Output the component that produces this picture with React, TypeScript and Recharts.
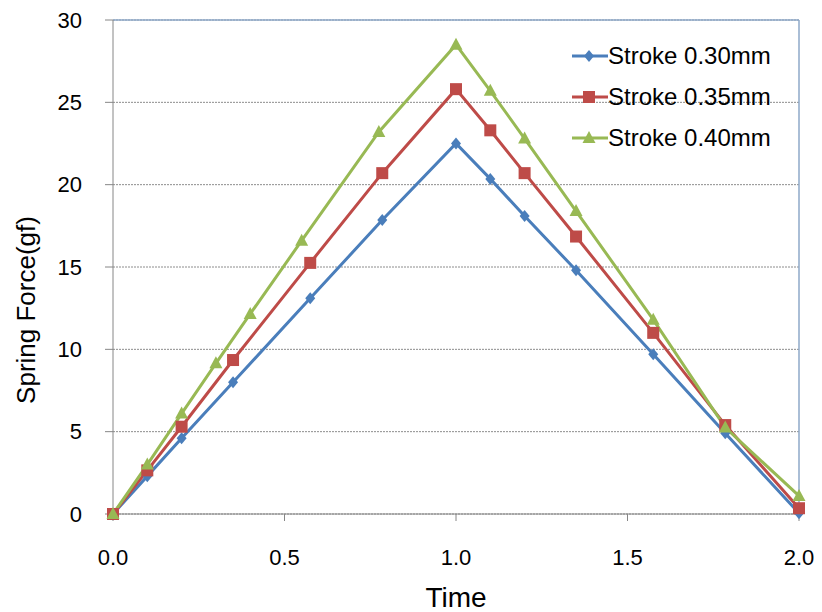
import React from "react";
import {
  LineChart,
  Line,
  XAxis,
  YAxis,
  CartesianGrid,
  ReferenceLine,
} from "recharts";

// time points and spring force readings, one set per stroke
const time030 = [0, 0.1, 0.2, 0.35, 0.575, 0.785, 1.0, 1.1, 1.2, 1.35, 1.575, 1.785, 2.0];
const force030 = [0, 2.3, 4.6, 8.0, 13.1, 17.85, 22.5, 20.35, 18.1, 14.8, 9.7, 4.9, 0.05];

const time035 = [0, 0.1, 0.2, 0.35, 0.575, 0.785, 1.0, 1.1, 1.2, 1.35, 1.575, 1.785, 2.0];
const force035 = [0, 2.65, 5.3, 9.35, 15.25, 20.7, 25.8, 23.3, 20.7, 16.85, 11.0, 5.4, 0.35];

const time040 = [0, 0.1, 0.2, 0.3, 0.4, 0.55, 0.775, 1.0, 1.1, 1.2, 1.35, 1.575, 1.785, 2.0];
const force040 = [0, 3.0, 6.1, 9.15, 12.15, 16.6, 23.2, 28.5, 25.7, 22.8, 18.4, 11.8, 5.25, 1.1];

const xTicks = [0, 0.5, 1.0, 1.5, 2.0];
const yTicks = [0, 5, 10, 15, 20, 25, 30];

const BLUE = "#4A7EBB";
const RED = "#BE4B48";
const GREEN = "#98B954";

const toRows = (xs: number[], ys: number[]) => xs.map((t, i) => ({ t, f: ys[i] }));

const series = [
  { name: "Stroke 0.30mm", color: BLUE, shape: "diamond", data: toRows(time030, force030) },
  { name: "Stroke 0.35mm", color: RED, shape: "square", data: toRows(time035, force035) },
  { name: "Stroke 0.40mm", color: GREEN, shape: "triangle", data: toRows(time040, force040) },
];

function marker(shape: string, cx: number, cy: number, color: string, key?: string) {
  if (shape === "diamond") {
    return <polygon key={key} points={`${cx},${cy - 6} ${cx + 5},${cy} ${cx},${cy + 6} ${cx - 5},${cy}`} fill={color} />;
  }
  if (shape === "square") {
    return <rect key={key} x={cx - 6} y={cy - 6} width={12} height={12} fill={color} />;
  }
  return <polygon key={key} points={`${cx},${cy - 7} ${cx + 6.5},${cy + 5} ${cx - 6.5},${cy + 5}`} fill={color} />;
}

const FONT = "'Liberation Sans', Arial, sans-serif";
const tickFont = { fontFamily: FONT, fontSize: 22, fill: "#000" };

function LegendBox() {
  return (
    <div
      style={{
        position: "absolute",
        top: 35,
        left: 572,
        fontFamily: FONT,
        fontSize: 24,
        color: "#000",
        whiteSpace: "nowrap",
      }}
    >
      {series.map((s) => (
        <div key={s.name} style={{ display: "flex", alignItems: "center", height: 41 }}>
          <svg width={36} height={20}>
            <line x1={0} y1={10} x2={36} y2={10} stroke={s.color} strokeWidth={3} />
            {marker(s.shape, 17, 10, s.color)}
          </svg>
          <span style={{ marginLeft: 0 }}>{s.name}</span>
        </div>
      ))}
    </div>
  );
}

export default function App() {
  return (
    <div style={{ position: "absolute", left: 0, top: 0, width: 822, height: 612, background: "#fff" }}>
      <LineChart width={822} height={612} margin={{ top: 20, right: 23, left: 0, bottom: 0 }}>
        <CartesianGrid vertical={false} stroke="#8c8c8c" strokeDasharray="2 1" />
        <XAxis
          type="number"
          dataKey="t"
          domain={[0, 2]}
          ticks={xTicks}
          tickFormatter={(v: number) => v.toFixed(1)}
          height={98}
          tickSize={7}
          tickMargin={28}
          stroke="#868686"
          tick={tickFont}
          allowDuplicatedCategory={false}
          label={(p: any) => {
            const vb = p.viewBox;
            return (
              <text
                x={vb.x + vb.width / 2}
                y={vb.y + 93}
                textAnchor="middle"
                fontFamily={FONT}
                fontSize={28}
                fill="#000"
              >
                Time
              </text>
            );
          }}
        />
        <YAxis
          type="number"
          domain={[0, 30]}
          ticks={yTicks}
          width={113}
          tickSize={8}
          tickMargin={23}
          stroke="#868686"
          tick={tickFont}
          label={(p: any) => {
            const vb = p.viewBox;
            const cx = 35;
            const cy = vb.y + vb.height / 2 + 43;
            return (
              <text
                x={cx}
                y={cy}
                transform={`rotate(-90, ${cx}, ${cy})`}
                textAnchor="middle"
                fontFamily={FONT}
                fontSize={26}
                fill="#000"
              >
                Spring Force(gf)
              </text>
            );
          }}
        />
        <ReferenceLine y={30} stroke="#8EA9C8" strokeWidth={1.5} />
        <ReferenceLine x={2} stroke="#8EA9C8" strokeWidth={1.5} />
        {series.map((s) => (
          <Line
            key={s.name}
            data={s.data}
            dataKey="f"
            name={s.name}
            stroke={s.color}
            strokeWidth={3}
            isAnimationActive={false}
            dot={(p: any) => marker(s.shape, p.cx, p.cy, s.color, `${s.name}-${p.index}`)}
            activeDot={false}
          />
        ))}
      </LineChart>
      <LegendBox />
    </div>
  );
}
